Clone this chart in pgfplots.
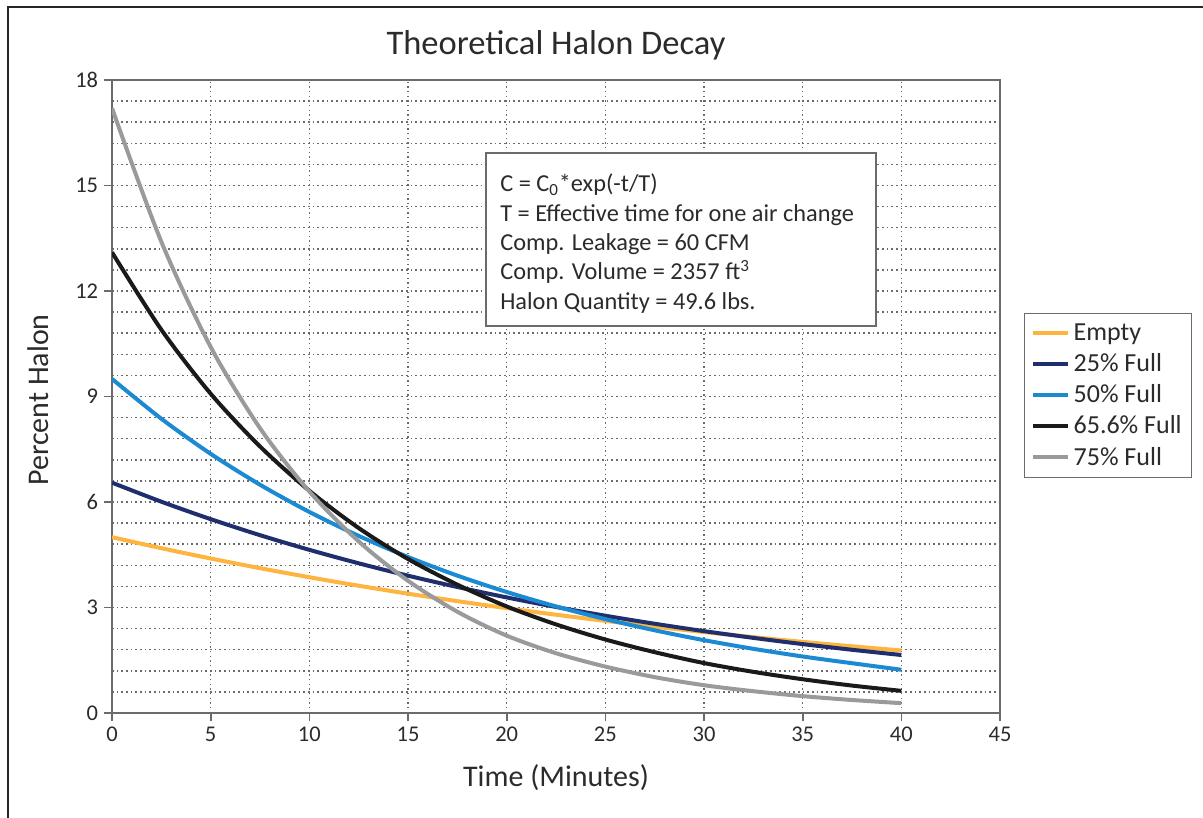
\documentclass[border=0pt]{standalone}
\usepackage{fontspec}
\setmainfont{Carlito}
\usepackage{pgfplots}
\pgfplotsset{compat=1.18}
\definecolor{cEmpty}{HTML}{FDB53F}
\definecolor{cQuarter}{HTML}{1F2F6E}
\definecolor{cHalf}{HTML}{1B8AD2}
\definecolor{cSix}{HTML}{1A1A1A}
\definecolor{cThree}{HTML}{999A9C}
\definecolor{axgray}{HTML}{6B6B6B}
\definecolor{txt}{HTML}{2B2B2B}
\begin{document}
\begin{tikzpicture}
\path[use as bounding box] (-67.2pt,-62.4pt) rectangle (654.6pt,427.8pt);
\begin{axis}[
  at={(0,0)}, anchor=south west,
  scale only axis, width=532.8pt, height=379.8pt,
  xmin=0, xmax=45, ymin=0, ymax=18,
  xtick={0,5,...,45}, ytick={0,3,...,18},
  minor ytick={0.6,1.2,...,17.5},
  minor x tick num=0,
  grid=both,
  major grid style={color=axgray, line width=0.9pt, dash pattern=on 0.9pt off 1.9pt},
  minor grid style={color=axgray, line width=0.9pt, dash pattern=on 0.9pt off 1.9pt},
  minor tick length=0pt,
  major tick length=4.8pt,
  tick align=outside,
  xtick pos=bottom, ytick pos=left,
  axis line style={draw=axgray, line width=1pt},
  tick style={draw=axgray, line width=1pt},
  ticklabel style={font=\fontsize{13.5}{15}\selectfont, text=txt},
  /pgf/number format/assume math mode=true,
  legend style={at={(1.027,0.632)}, anchor=north west, draw=axgray, line width=0.8pt,
    font=\fontsize{15.6}{18}\selectfont, text=txt, row sep=2.4pt,
    inner xsep=4pt, inner ysep=4pt},
  legend cell align=left,
  legend image code/.code={\draw[#1, line width=2.4pt] (0pt,0pt) -- (21pt,0pt);},
]
\addplot[cEmpty, line width=2.4pt, smooth] coordinates {
(0,5.000) (2.5,4.687) (5,4.394) (7.5,4.119) (10,3.861) (12.5,3.619) (15,3.393) (17.5,3.181)
(20,2.982) (22.5,2.795) (25,2.620) (27.5,2.456) (30,2.302) (32.5,2.158) (35,2.023) (37.5,1.897) (40,1.778)};
\addlegendentry{Empty}
\addplot[cQuarter, line width=2.4pt, smooth] coordinates {
(0,6.550) (2.5,6.009) (5,5.513) (7.5,5.057) (10,4.640) (12.5,4.257) (15,3.905) (17.5,3.583)
(20,3.287) (22.5,3.015) (25,2.766) (27.5,2.538) (30,2.328) (32.5,2.136) (35,1.959) (37.5,1.798) (40,1.649)};
\addlegendentry{25\% Full}
\addplot[cHalf, line width=2.4pt, smooth] coordinates {
(0,9.500) (2.5,8.368) (5,7.370) (7.5,6.492) (10,5.718) (12.5,5.036) (15,4.436) (17.5,3.907)
(20,3.442) (22.5,3.031) (25,2.670) (27.5,2.352) (30,2.071) (32.5,1.825) (35,1.607) (37.5,1.416) (40,1.230)};
\addlegendentry{50\% Full}
\addplot[cSix, line width=2.4pt, smooth] coordinates {
(0,13.10) (2.5,10.90) (5,9.08) (7.5,7.58) (10,6.32) (12.5,5.26) (15,4.38) (17.5,3.65)
(20,3.03) (22.5,2.52) (25,2.09) (27.5,1.73) (30,1.42) (32.5,1.17) (35,0.96) (37.5,0.78) (40,0.63)};
\addlegendentry{65.6\% Full}
\addplot[cThree, line width=2.4pt, smooth] coordinates {
(0,17.20) (2.5,13.40) (5,10.41) (7.5,8.10) (10,6.30) (12.5,4.88) (15,3.76) (17.5,2.88)
(20,2.20) (22.5,1.70) (25,1.32) (27.5,1.02) (30,0.79) (32.5,0.62) (35,0.48) (37.5,0.37) (40,0.28)};
\addlegendentry{75\% Full}
\end{axis}
% outer frame
\draw[color=black!85, line width=1.4pt] (-62.4pt,-80pt) -- (-62.4pt,423.6pt) -- (680pt,423.6pt);
% title and labels
\node[text=txt, font=\fontsize{20.7}{24}\selectfont] at (266.4pt,400.8pt) {Theoretical Halon Decay};
\node[text=txt, font=\fontsize{18}{21}\selectfont, rotate=90] at (-44.4pt,187.8pt) {Percent Halon};
\node[text=txt, font=\fontsize{18}{21}\selectfont] at (266.4pt,-39pt) {Time (Minutes)};
% annotation box
\filldraw[fill=white, draw=axgray, line width=0.8pt] (224.4pt,232.2pt) rectangle (458.4pt,336pt);
\begin{scope}[every node/.style={anchor=base west, inner sep=0pt, text=txt, font=\fontsize{14.6}{17}\selectfont}]
\node at (232.8pt,312.6pt) {C = C\textsubscript{0}*exp(-t/T)};
\node at (232.8pt,295.0pt) {T = Effective time for one air change};
\node at (232.8pt,277.4pt) {Comp. Leakage = 60 CFM};
\node at (232.8pt,259.8pt) {Comp. Volume = 2357 ft\textsuperscript{3}};
\node at (232.8pt,242.2pt) {Halon Quantity = 49.6 lbs.};
\end{scope}
\end{tikzpicture}
\end{document}
